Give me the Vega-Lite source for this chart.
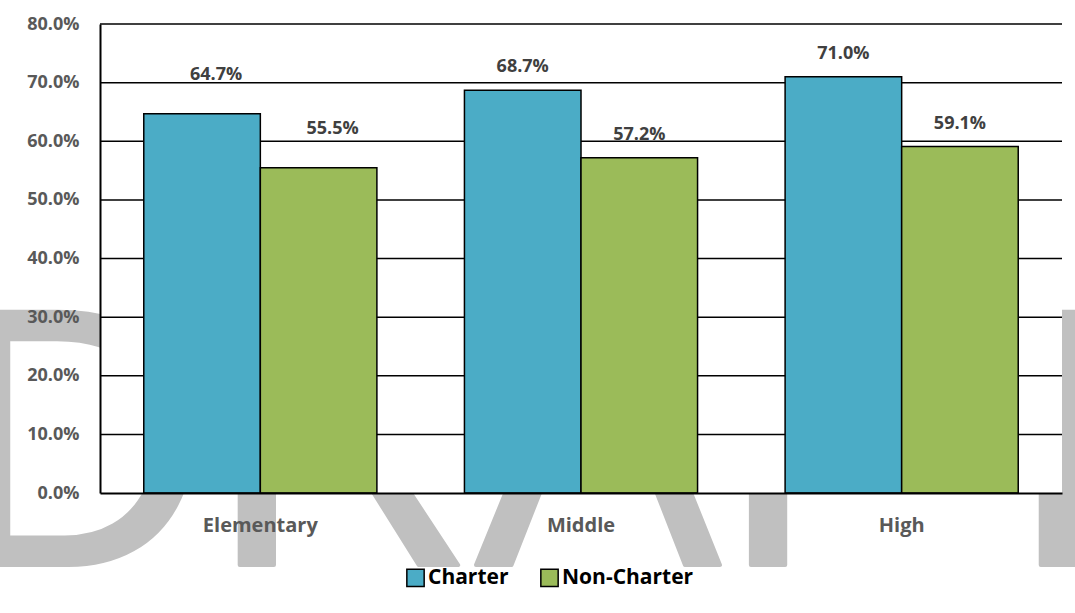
{
  "$schema": "https://vega.github.io/schema/vega-lite/v6.json",
  "width": 962,
  "height": 469,
  "autosize": {"type": "none"},
  "padding": {"left": 100, "top": 24, "right": 13, "bottom": 120},
  "background": "white",
  "config": {
    "view": {"stroke": null},
    "font": "Open Sans"
  },
  "datasets": {
    "scores": [
      {"level": "Elementary", "type": "Charter", "rate": 0.647},
      {"level": "Elementary", "type": "Non-Charter", "rate": 0.555},
      {"level": "Middle", "type": "Charter", "rate": 0.687},
      {"level": "Middle", "type": "Non-Charter", "rate": 0.572},
      {"level": "High", "type": "Charter", "rate": 0.710},
      {"level": "High", "type": "Non-Charter", "rate": 0.591}
    ],
    "grid": [
      {"v": 0.1}, {"v": 0.2}, {"v": 0.3}, {"v": 0.4},
      {"v": 0.5}, {"v": 0.6}, {"v": 0.7}, {"v": 0.8}
    ],
    "mark": [{"w": "DRAFT"}]
  },
  "data": {"name": "scores"},
  "layer": [
    {
      "data": {"name": "mark"},
      "mark": {
        "type": "text",
        "font": "Liberation Sans",
        "fontSize": 368,
        "fill": "#C0C0C0",
        "stroke": "#C0C0C0",
        "strokeWidth": 4,
        "strokeJoin": "round",
        "align": "center",
        "baseline": "alphabetic",
        "dx": -24,
        "clip": false
      },
      "encoding": {
        "x": {"datum": "Middle", "bandPosition": 0.5},
        "y": {"datum": -0.1228},
        "text": {"field": "w"}
      }
    },
    {
      "data": {"values": [{}]},
      "mark": {"type": "rect", "fill": "white"},
      "encoding": {
        "x": {"value": 0},
        "x2": {"value": {"expr": "width"}},
        "y": {"datum": 0.8},
        "y2": {"datum": 0}
      }
    },
    {
      "data": {"name": "grid"},
      "mark": {"type": "rule", "color": "#000000", "strokeWidth": 1.5},
      "encoding": {
        "y": {"field": "v", "type": "quantitative"}
      }
    },
    {
      "mark": {"type": "bar", "stroke": "#000000", "strokeWidth": 1.5},
      "encoding": {
        "x": {
          "field": "level",
          "type": "nominal",
          "sort": ["Elementary", "Middle", "High"],
          "scale": {"paddingInner": 0.273, "paddingOuter": 0.1365},
          "axis": {
            "title": null,
            "zindex": 2,
            "labelAngle": 0,
            "labelAlign": "center",
            "labelBaseline": "top",
            "ticks": false,
            "domainColor": "#000000",
            "domainWidth": 2,
            "labelFont": "Open Sans",
            "labelFontWeight": "bold",
            "labelFontSize": 20,
            "labelColor": "#595959",
            "labelPadding": 22
          }
        },
        "xOffset": {
          "field": "type",
          "type": "nominal",
          "sort": ["Charter", "Non-Charter"],
          "scale": {"paddingInner": 0, "paddingOuter": 0}
        },
        "y": {
          "field": "rate",
          "type": "quantitative",
          "scale": {"domain": [0, 0.8], "nice": false, "zero": true},
          "axis": {
            "title": null,
            "zindex": 2,
            "format": ".1%",
            "values": [0, 0.1, 0.2, 0.3, 0.4, 0.5, 0.6, 0.7, 0.8],
            "grid": false,
            "ticks": false,
            "domainColor": "#000000",
            "domainWidth": 2,
            "labelFont": "Open Sans",
            "labelFontWeight": "bold",
            "labelFontSize": 18,
            "labelColor": "#595959",
            "labelPadding": 21
          }
        },
        "color": {
          "field": "type",
          "type": "nominal",
          "sort": ["Charter", "Non-Charter"],
          "scale": {"domain": ["Charter", "Non-Charter"], "range": ["#4BACC6", "#9BBB59"]},
          "legend": {
            "title": null,
            "zindex": 2,
            "orient": "none",
            "direction": "horizontal",
            "legendX": 305,
            "legendY": 543,
            "symbolType": "square",
            "symbolSize": 300,
            "symbolStrokeColor": "#000000",
            "symbolStrokeWidth": 1.5,
            "symbolOpacity": 1,
            "labelFont": "Open Sans",
            "labelFontWeight": "bold",
            "labelFontSize": 21,
            "labelColor": "#000000",
            "labelOffset": 2,
            "columnPadding": 28
          }
        }
      }
    },
    {
      "transform": [{"filter": "datum.level === 'Elementary'"}],
      "mark": {
        "type": "text",
        "font": "Open Sans",
        "fontWeight": "bold",
        "fontSize": 18,
        "color": "#404040",
        "baseline": "alphabetic",
        "dy": -34,
        "dx": 14
      },
      "encoding": {
        "x": {"field": "level", "type": "nominal", "sort": ["Elementary", "Middle", "High"]},
        "xOffset": {"field": "type", "type": "nominal", "sort": ["Charter", "Non-Charter"]},
        "y": {"field": "rate", "type": "quantitative"},
        "text": {"field": "rate", "type": "quantitative", "format": ".1%"}
      }
    },
    {
      "transform": [{"filter": "datum.level !== 'Elementary'"}],
      "mark": {
        "type": "text",
        "font": "Open Sans",
        "fontWeight": "bold",
        "fontSize": 18,
        "color": "#404040",
        "baseline": "alphabetic",
        "dy": -18
      },
      "encoding": {
        "x": {"field": "level", "type": "nominal", "sort": ["Elementary", "Middle", "High"]},
        "xOffset": {"field": "type", "type": "nominal", "sort": ["Charter", "Non-Charter"]},
        "y": {"field": "rate", "type": "quantitative"},
        "text": {"field": "rate", "type": "quantitative", "format": ".1%"}
      }
    }
  ]
}
